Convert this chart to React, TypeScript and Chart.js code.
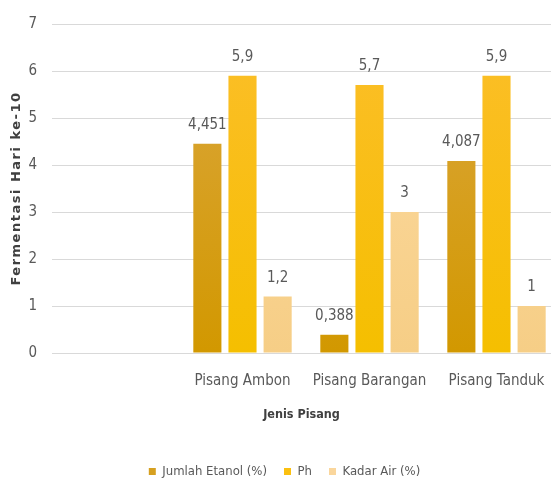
import React, { useEffect, useRef } from "react";
import { Chart, registerables } from "chart.js";

Chart.register(...registerables);

// Category slots along the x axis (the first slot is left empty)
const categories: string[] = ["", "Pisang Ambon", "Pisang Barangan", "Pisang Tanduk"];

// Series values per category
const jumlahEtanol: (number | null)[] = [null, 4.451, 0.388, 4.087];
const ph: (number | null)[] = [null, 5.9, 5.7, 5.9];
const kadarAir: (number | null)[] = [null, 1.2, 3, 1];

const seriesNames: string[] = ["Jumlah Etanol (%)", "Ph", "Kadar Air (%)"];

// y axis ticks
const yTicks: number[] = [0, 1, 2, 3, 4, 5, 6, 7];

const yTitle = "Fermentasi Hari ke-10";
const xTitle = "Jenis Pisang";

const FONT = '"Liberation Sans Narrow", "DejaVu Sans Condensed", sans-serif';
const TEXT = "#595959";
const TITLE = "#404040";

// top / bottom colours of each series' gradient fill
const fills: [string, string][] = [
  ["#DBA73F", "#D29800"],
  ["#FCBE2A", "#F5BF00"],
  ["#FDDBA2", "#F6CE86"],
];
const legendFills = ["#D6A020", "#FBC010", "#FAD69C"];

const toPoints = (values: (number | null)[]) =>
  values
    .map((v, i) => (v === null ? null : { x: i, y: v }))
    .filter((p) => p !== null) as { x: number; y: number }[];

const fmt = (v: number) => String(v).replace(".", ",");

// value labels above each bar
const valueLabels = {
  id: "valueLabels",
  afterDatasetsDraw(chart: any) {
    const { ctx } = chart;
    ctx.save();
    ctx.font = `15px ${FONT}`;
    ctx.fillStyle = TEXT;
    ctx.textAlign = "center";
    ctx.textBaseline = "bottom";
    chart.data.datasets.forEach((ds: any, di: number) => {
      const meta = chart.getDatasetMeta(di);
      meta.data.forEach((bar: any, i: number) => {
        const v = ds.data[i].y;
        ctx.fillText(fmt(v), bar.x, bar.y - 11);
      });
    });
    ctx.restore();
  },
};

// rotated, letter-spaced y axis title
const yAxisTitle = {
  id: "yAxisTitle",
  afterDraw(chart: any) {
    const { ctx, chartArea } = chart;
    ctx.save();
    ctx.translate(17, (chartArea.top + chartArea.bottom) / 2);
    ctx.rotate(-Math.PI / 2);
    ctx.font = `bold 13px "DejaVu Sans", sans-serif`;
    (ctx as any).letterSpacing = "1.5px";
    ctx.fillStyle = TITLE;
    ctx.textAlign = "center";
    ctx.textBaseline = "middle";
    ctx.fillText(yTitle, 0, 0);
    ctx.restore();
  },
};

export default function App() {
  const ref = useRef<HTMLCanvasElement>(null);

  useEffect(() => {
    if (!ref.current) return;
    const gradientFor = (idx: number) => (c: any) => {
      const area = c.chart.chartArea;
      if (!area) return fills[idx][1];
      const g = c.chart.ctx.createLinearGradient(0, area.top, 0, area.bottom);
      g.addColorStop(0, fills[idx][0]);
      g.addColorStop(1, fills[idx][1]);
      return g;
    };
    const series = [jumlahEtanol, ph, kadarAir];
    const slotWidth = 127;
    const chart = new Chart(ref.current, {
      type: "bar",
      data: {
        datasets: series.map((values, idx) => ({
          label: seriesNames[idx],
          data: toPoints(values),
          backgroundColor: gradientFor(idx),
          borderWidth: 0,
          categoryPercentage: 0.83,
          barPercentage: 0.8,
        })),
      },
      options: {
        animation: false,
        responsive: false,
        layout: { padding: { top: 24, right: 0, bottom: -3, left: 18 } },
        plugins: {
          tooltip: { enabled: false },
          legend: {
            position: "bottom",
            labels: {
              boxWidth: 7,
              boxHeight: 7,
              padding: 17,
              color: TEXT,
              font: { family: FONT, size: 13, lineHeight: 1 },
              generateLabels: (ch: any) =>
                ch.data.datasets.map((ds: any, i: number) => ({
                  text: ds.label,
                  fillStyle: legendFills[i],
                  strokeStyle: legendFills[i],
                  lineWidth: 0,
                  fontColor: TEXT,
                  datasetIndex: i,
                  hidden: false,
                })),
            },
          },
        },
        scales: {
          x: {
            type: "linear",
            offset: false,
            min: -0.5,
            max: (551 - 52) / slotWidth - 0.5,
            grid: { display: false, drawTicks: false, offset: false },
            border: { display: false },
            afterFit: (s: any) => {
              s.height = 95;
              s.paddingLeft = 0;
              s.paddingRight = 0;
            },
            afterBuildTicks: (s: any) => {
              s.ticks = categories.map((_, i) => ({ value: i }));
            },
            ticks: {
              autoSkip: false,
              maxRotation: 0,
              padding: 19,
              color: TEXT,
              font: { family: FONT, size: 15 },
              callback: (v: any) => categories[v] ?? "",
            },
            title: {
              display: true,
              text: xTitle,
              color: TITLE,
              font: { family: FONT, size: 12.5, weight: "bold" },
              padding: { top: 0, bottom: 26 },
            },
          },
          y: {
            min: 0,
            max: 7,
            afterFit: (s: any) => {
              s.width = 34;
              s.paddingTop = 0;
              s.paddingBottom = 0;
            },
            afterBuildTicks: (s: any) => {
              s.ticks = yTicks.map((v) => ({ value: v }));
            },
            grid: { color: "#D9D9D9", lineWidth: 1, drawTicks: false },
            border: { display: false },
            ticks: {
              padding: 15,
              color: TEXT,
              font: { family: FONT, size: 15 },
            },
          },
        },
      },
      plugins: [valueLabels, yAxisTitle],
    });
    return () => chart.destroy();
  }, []);

  return (
    <div
      style={{
        position: "fixed",
        left: 0,
        top: 0,
        width: 551,
        height: 485,
        overflow: "hidden",
        background: "#fff",
      }}
    >
      <canvas ref={ref} width={551} height={485} />
    </div>
  );
}
